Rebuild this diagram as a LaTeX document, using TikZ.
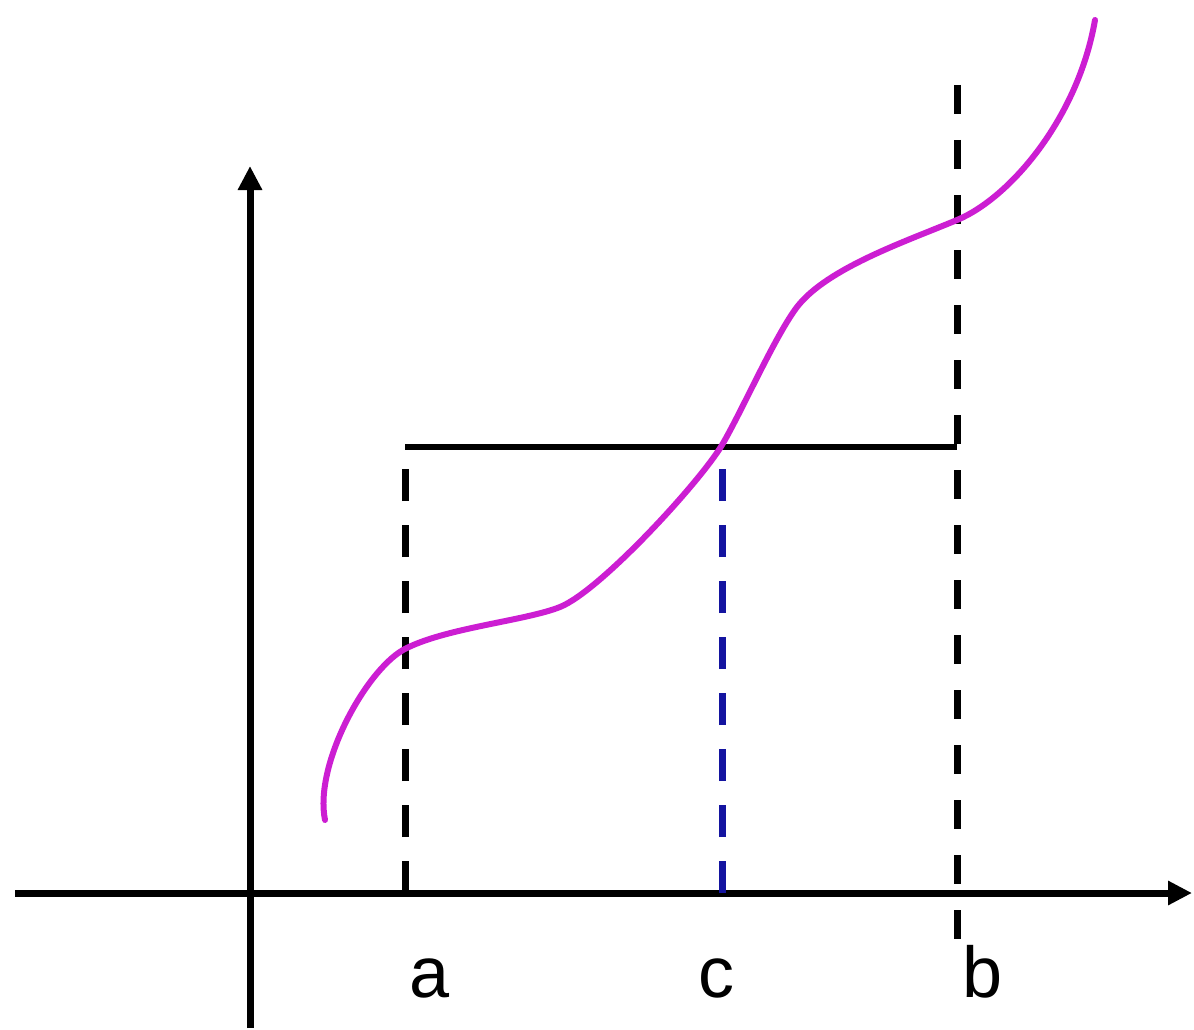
\documentclass[tikz,border=0pt]{standalone}
\usepackage{fontspec}
\setmainfont{Liberation Sans}
\usetikzlibrary{arrows.meta}
\definecolor{curvemag}{RGB}{204,30,210}
\definecolor{cblue}{RGB}{20,20,160}
\tikzset{
  axisline/.style={line width=7pt, -{Triangle[length=24pt,width=23pt]}},
  guide/.style={line width=7pt, dash pattern=on 32pt off 24pt},
  lbl/.style={font=\fontsize{72}{80}\selectfont, anchor=base, inner sep=0pt}
}
\begin{document}
\begin{tikzpicture}[x=1pt,y=-1pt]
\useasboundingbox (0,0) rectangle (1194,1030);
% axes
\coordinate (xs) at (15,893);
\coordinate (xe) at (1192,893);
\coordinate (ys) at (250,1028);
\coordinate (ye) at (250,166);
\draw[axisline] (xs) -- (xe);
\draw[axisline] (ys) -- (ye);
% guide coordinates
\coordinate (afoot) at (405,893);
\coordinate (atop) at (405,447);
\coordinate (cfoot) at (722,893);
\coordinate (ctop) at (722,447);
\coordinate (btop) at (957,85);
\coordinate (bfoot) at (957,952);
\coordinate (bmid) at (957,447);
% horizontal level line
\draw[line width=6.5pt] (atop) -- (bmid);
% dashed guides
\draw[guide] (afoot) -- (atop);
\draw[guide, cblue] (cfoot) -- (ctop);
\draw[line width=7pt, dash pattern=on 29pt off 26pt] (btop) -- (bfoot);
% curve
\draw[curvemag, line width=6pt, line cap=round]
  (325,820) .. controls (314,765) and (365,672) .. (403,650)
  .. controls (443,628) and (525,621) .. (560,607)
  .. controls (600,591) and (700,482) .. (722,445)
  .. controls (742,411) and (775,336) .. (797,307)
  .. controls (827,268) and (907,241) .. (957,220)
  .. controls (1010,198) and (1078,118) .. (1095,20);
% labels
\node[lbl] (la) at (430,997) {a};
\node[lbl] (lc) at (716,997) {c};
\node[lbl] (lb) at (983,997) {b};
\end{tikzpicture}
\end{document}
